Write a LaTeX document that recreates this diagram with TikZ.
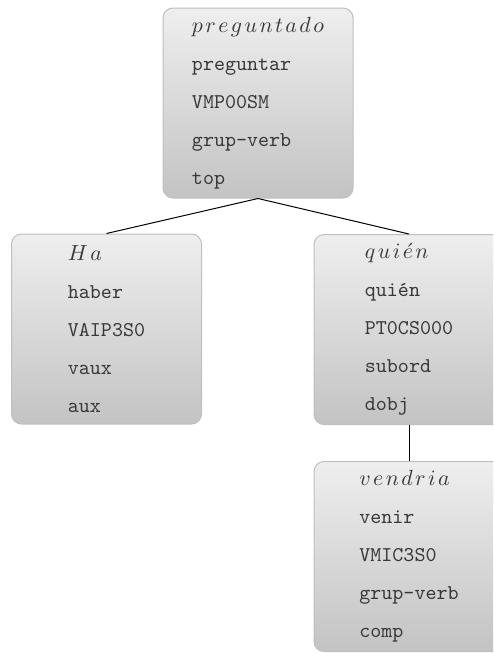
\documentclass[tikz,border=0pt]{standalone}
\newcommand\lsp{\mkern2mu}
\begin{document}
\begin{tikzpicture}[x=0.5pt,y=-0.5pt,
  tok/.style={draw=gray!50, line width=0.5pt, rounded corners=5pt,
    top color=gray!13, bottom color=gray!47,
    minimum width=95pt, minimum height=95pt, inner sep=0pt,
    align=left, text=black!78,
    font=\ttfamily\fontsize{10.5}{19}\selectfont},
  link/.style={draw=black, line width=0.5pt}]
\useasboundingbox (0,0) rectangle (493,653);
\clip (0,0) rectangle (493,653);
\node[tok] (top) at (258,103) {$p\lsp r\lsp e\lsp g\lsp u\lsp n\lsp t\lsp a\lsp d\lsp o$\\preguntar\\VMP00SM\\grup-verb\\top};
\node[tok] (ha) at (106.5,329) {$H\lsp a$\\haber\\VAIP3S0\\vaux\\aux};
\node[tok] (quien) at (409,329.5) {$q\lsp u\lsp i\lsp\acute{e}\lsp n$\\qui\'en\\PT0CS000\\subord\\dobj};
\node[tok] (vendria) at (409,556.5) {$v\lsp e\lsp n\lsp d\lsp r\lsp i\lsp a$\\venir\\VMIC3S0\\grup-verb\\comp};
\draw[link] (top.south) -- (ha.north);
\draw[link] (top.south) -- (quien.north);
\draw[link] (quien.south) -- (vendria.north);
\end{tikzpicture}
\end{document}
